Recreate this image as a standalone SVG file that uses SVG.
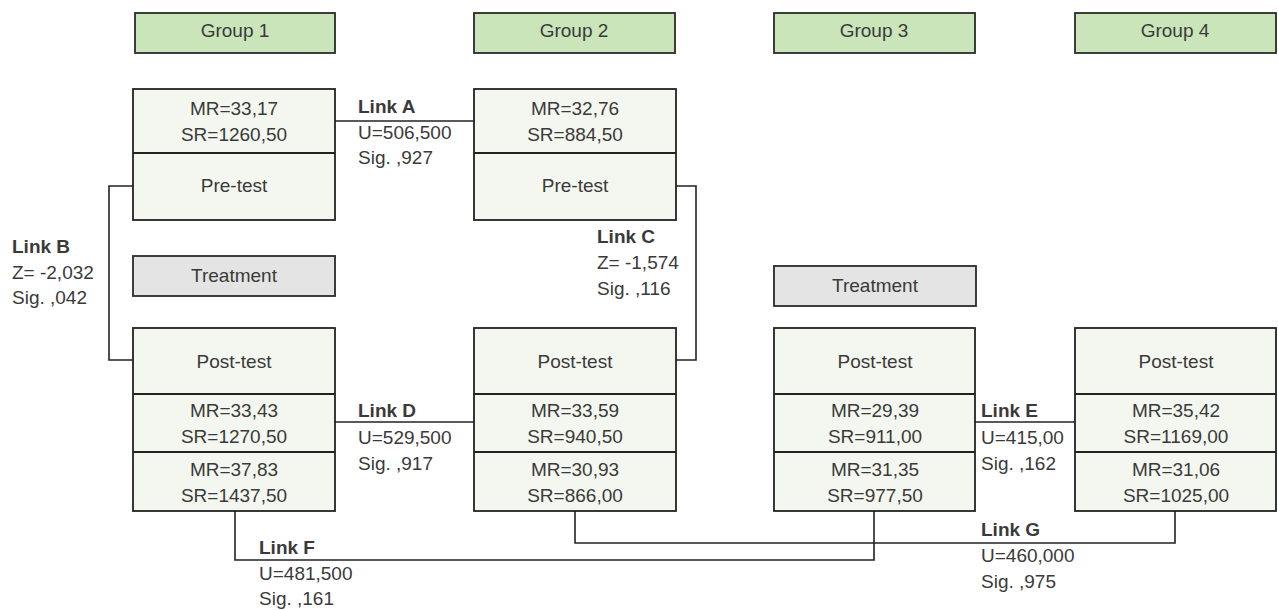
<svg xmlns="http://www.w3.org/2000/svg" width="1278" height="610" viewBox="0 0 1278 610">
<style>
text{font-family:"Liberation Sans",Arial,sans-serif;font-size:19px;fill:#3a3a3a}
.c{text-anchor:middle}
.b{font-weight:bold}
.hdr{fill:#c9e5b9;stroke:#2a2a2a;stroke-width:1.8}
.box{fill:#f4f7ef;stroke:#222;stroke-width:1.8}
.trt{fill:#e4e4e4;stroke:#2a2a2a;stroke-width:1.8}
.div{stroke:#222;stroke-width:1.8;fill:none}
.con{stroke:#222;stroke-width:1.6;fill:none}
</style>
<rect width="1278" height="610" fill="#ffffff"/>
<g id="group1-header"><rect class="hdr" x="135" y="13" width="200" height="40"/><text class="c" x="235" y="37">Group 1</text></g>
<g id="group2-header"><rect class="hdr" x="474" y="13" width="201" height="40"/><text class="c" x="574" y="37">Group 2</text></g>
<g id="group3-header"><rect class="hdr" x="774" y="13" width="201" height="40"/><text class="c" x="874" y="37">Group 3</text></g>
<g id="group4-header"><rect class="hdr" x="1075" y="13" width="201" height="40"/><text class="c" x="1175" y="37">Group 4</text></g>

<g id="g1-pretest"><rect class="box" x="133" y="89" width="202" height="131"/><line class="div" x1="133" y1="153" x2="335" y2="153"/>
<text class="c" x="234" y="115">MR=33,17</text><text class="c" x="234" y="141">SR=1260,50</text><text class="c" x="234" y="192">Pre-test</text></g>
<g id="g2-pretest"><rect class="box" x="474" y="89" width="202" height="131"/><line class="div" x1="474" y1="153" x2="676" y2="153"/>
<text class="c" x="575" y="115">MR=32,76</text><text class="c" x="575" y="141">SR=884,50</text><text class="c" x="575" y="192">Pre-test</text></g>

<g id="g1-treatment"><rect class="trt" x="133" y="256" width="202" height="40"/><text class="c" x="234" y="282">Treatment</text></g>
<g id="g3-treatment"><rect class="trt" x="774" y="266" width="202" height="40"/><text class="c" x="875" y="292">Treatment</text></g>

<g id="g1-posttest"><rect class="box" x="133" y="328" width="202" height="183"/><line class="div" x1="133" y1="394" x2="335" y2="394"/><line class="div" x1="133" y1="452" x2="335" y2="452"/>
<text class="c" x="234" y="368">Post-test</text><text class="c" x="234" y="417">MR=33,43</text><text class="c" x="234" y="443">SR=1270,50</text><text class="c" x="234" y="476">MR=37,83</text><text class="c" x="234" y="502">SR=1437,50</text></g>
<g id="g2-posttest"><rect class="box" x="474" y="328" width="202" height="183"/><line class="div" x1="474" y1="394" x2="676" y2="394"/><line class="div" x1="474" y1="452" x2="676" y2="452"/>
<text class="c" x="575" y="368">Post-test</text><text class="c" x="575" y="417">MR=33,59</text><text class="c" x="575" y="443">SR=940,50</text><text class="c" x="575" y="476">MR=30,93</text><text class="c" x="575" y="502">SR=866,00</text></g>
<g id="g3-posttest"><rect class="box" x="774" y="328" width="201" height="183"/><line class="div" x1="774" y1="394" x2="975" y2="394"/><line class="div" x1="774" y1="452" x2="975" y2="452"/>
<text class="c" x="875" y="368">Post-test</text><text class="c" x="875" y="417">MR=29,39</text><text class="c" x="875" y="443">SR=911,00</text><text class="c" x="875" y="476">MR=31,35</text><text class="c" x="875" y="502">SR=977,50</text></g>
<g id="g4-posttest"><rect class="box" x="1075" y="328" width="201" height="183"/><line class="div" x1="1075" y1="394" x2="1276" y2="394"/><line class="div" x1="1075" y1="452" x2="1276" y2="452"/>
<text class="c" x="1176" y="368">Post-test</text><text class="c" x="1176" y="417">MR=35,42</text><text class="c" x="1176" y="443">SR=1169,00</text><text class="c" x="1176" y="476">MR=31,06</text><text class="c" x="1176" y="502">SR=1025,00</text></g>

<g id="connectors">
<path class="con" d="M335,121 H474"/>
<path class="con" d="M133,186 H109 V360 H133"/>
<path class="con" d="M676,186 H696 V360 H676"/>
<path class="con" d="M335,422 H474"/>
<path class="con" d="M975,422 H1075"/>
<path class="con" d="M235,511 V560 H874 V511"/>
<path class="con" d="M575,511 V543 H1175 V511"/>
</g>

<g id="link-labels">
<text x="358" y="113" class="b">Link A</text><text x="358" y="139">U=506,500</text><text x="358" y="164">Sig. ,927</text>
<text x="12" y="253" class="b">Link B</text><text x="12" y="279">Z= -2,032</text><text x="12" y="304">Sig. ,042</text>
<text x="597" y="243" class="b">Link C</text><text x="597" y="269">Z= -1,574</text><text x="597" y="295">Sig. ,116</text>
<text x="358" y="417" class="b">Link D</text><text x="358" y="444">U=529,500</text><text x="358" y="470">Sig. ,917</text>
<text x="981" y="417" class="b">Link E</text><text x="981" y="444">U=415,00</text><text x="981" y="470">Sig. ,162</text>
<text x="259" y="554" class="b">Link F</text><text x="259" y="580">U=481,500</text><text x="259" y="605">Sig. ,161</text>
<text x="981" y="536" class="b">Link G</text><text x="981" y="562">U=460,000</text><text x="981" y="588">Sig. ,975</text>
</g>
</svg>
